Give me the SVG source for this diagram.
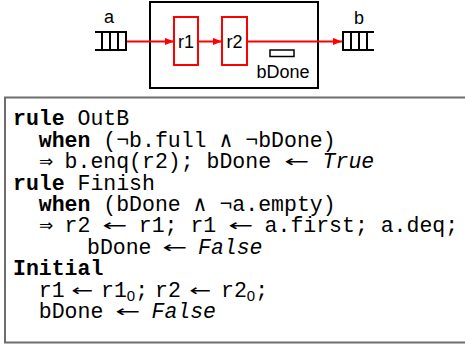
<svg xmlns="http://www.w3.org/2000/svg" width="465" height="345" viewBox="0 0 465 345">
  <defs>
    <marker id="ah" viewBox="0 0 10 8" refX="10" refY="4" markerWidth="9" markerHeight="8" markerUnits="userSpaceOnUse" orient="auto">
      <path d="M0,0 L10,4 L0,8 z" fill="#f00"/>
    </marker>
  </defs>
  <style>
    .blk{fill:none;stroke:#000;stroke-width:2}
    .reg{fill:#fff;stroke:#f00;stroke-width:2}
    .wire{fill:none;stroke:#f00;stroke-width:2;marker-end:url(#ah)}
    .lbl{font-family:"Liberation Sans",Arial,sans-serif;font-size:18px;fill:#000}
    .code{font-family:"Liberation Mono","DejaVu Sans Mono",monospace;font-size:21.5px;fill:#000}
    .kw{font-weight:bold}
    .it{font-style:italic}
    .arr{font-family:"DejaVu Sans",sans-serif;font-size:16px;fill:#000}
    .imp{font-family:"DejaVu Sans",sans-serif;font-size:17px;fill:#000}
    .sub{font-family:"Liberation Sans",Arial,sans-serif;font-size:15px}
  </style>

  <!-- module outline -->
  <g id="module">
    <rect x="150" y="2" width="168" height="86" fill="#fff" stroke="#000" stroke-width="2"/>
  </g>

  <!-- input FIFO a -->
  <g id="fifo-a">
    <path class="blk" d="M95,32 H127 M95,50 H127 M102,32 V50 M110,32 V50 M118,32 V50 M126,32 V50"/>
    <text class="lbl" x="109" y="23" text-anchor="middle">a</text>
  </g>

  <!-- output FIFO b -->
  <g id="fifo-b">
    <path class="blk" d="M342,32 H374 M342,50 H374 M343,32 V50 M351,32 V50 M359,32 V50 M367,32 V50"/>
    <text class="lbl" x="359" y="24" text-anchor="middle">b</text>
  </g>

  <!-- registers -->
  <g id="r1">
    <rect class="reg" x="174" y="17" width="24" height="48"/>
    <text class="lbl" x="186" y="48" text-anchor="middle">r1</text>
  </g>
  <g id="r2">
    <rect class="reg" x="222" y="17" width="25" height="48"/>
    <text class="lbl" x="234.5" y="48" text-anchor="middle">r2</text>
  </g>
  <g id="bDone">
    <rect x="270" y="50" width="24" height="6.5" fill="none" stroke="#000" stroke-width="1.5"/>
    <text class="lbl" x="283" y="78" text-anchor="middle">bDone</text>
  </g>

  <!-- data paths -->
  <g id="connectors">
    <path class="wire" d="M127,41.5 H174"/>
    <path class="wire" d="M198,41.5 H222"/>
    <path class="wire" d="M247,41.5 H342"/>
  </g>

  <!-- rule listing -->
  <g id="rules">
    <path d="M467,97.5 H5 V342.5 H467" fill="#fff" stroke="#6e6e6e" stroke-width="2"/>

    <text class="code" x="13" y="125"><tspan class="kw">rule</tspan> OutB</text>

    <text class="code" x="38.8" y="146.5"><tspan class="kw">when</tspan> (¬b.full ∧ ¬bDone)</text>

    <text class="imp" x="39" y="167">⇒</text>
    <text class="code" x="64.6" y="168">b.enq(r2); bDone</text>
    <text class="arr" x="284" y="167" textLength="25" lengthAdjust="spacingAndGlyphs">←</text>
    <text class="code it" x="322.6" y="168">True</text>

    <text class="code" x="13" y="189.5"><tspan class="kw">rule</tspan> Finish</text>

    <text class="code" x="38.8" y="211"><tspan class="kw">when</tspan> (bDone ∧ ¬a.empty)</text>

    <text class="imp" x="39" y="231">⇒</text>
    <text class="code" x="64.6" y="232">r2</text>
    <text class="arr" x="102" y="231" textLength="25" lengthAdjust="spacingAndGlyphs">←</text>
    <text class="code" x="138.8" y="232">r1; r1</text>
    <text class="arr" x="228" y="231" textLength="25" lengthAdjust="spacingAndGlyphs">←</text>
    <text class="code" x="264.6" y="232">a.first; a.deq;</text>

    <text class="code" x="87" y="253.5">bDone</text>
    <text class="arr" x="162" y="252.5" textLength="25" lengthAdjust="spacingAndGlyphs">←</text>
    <text class="code it" x="198" y="253.5">False</text>

    <text class="code kw" x="13" y="275">Initial</text>

    <text class="code" x="38.8" y="296.5">r1</text>
    <text class="arr" x="71" y="295.5" textLength="22" lengthAdjust="spacingAndGlyphs">←</text>
    <text class="code" x="101" y="296.5">r1<tspan class="sub" dy="4">0</tspan><tspan dy="-4">;</tspan></text>
    <text class="code" x="155" y="296.5">r2</text>
    <text class="arr" x="189" y="295.5" textLength="22" lengthAdjust="spacingAndGlyphs">←</text>
    <text class="code" x="221" y="296.5">r2<tspan class="sub" dy="4">0</tspan><tspan dy="-4">;</tspan></text>

    <text class="code" x="38.8" y="318">bDone</text>
    <text class="arr" x="115" y="317" textLength="25" lengthAdjust="spacingAndGlyphs">←</text>
    <text class="code it" x="151.5" y="318">False</text>
  </g>
</svg>
